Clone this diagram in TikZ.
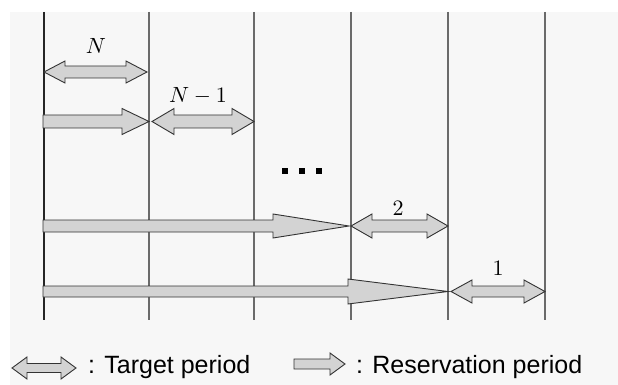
\documentclass[tikz,border=0pt]{standalone}
\usepackage{fontspec}
\newfontfamily\legendfont{Liberation Sans}
\definecolor{bgc}{HTML}{F7F7F7}
\definecolor{arrfill}{HTML}{D3D3D3}
\definecolor{arredge}{HTML}{333333}
\definecolor{linec}{HTML}{6A6A6A}
\tikzset{
  arrowfill/.style={fill=arrfill, draw=arredge, line width=0.9pt, line join=miter},
  gridline/.style={draw=linec, line width=1.2pt},
  mlabel/.style={inner sep=0pt},
  legtext/.style={inner sep=0pt, anchor=base west, font=\legendfont\fontsize{25}{30}\selectfont},
  dotsq/.style={fill=black, minimum size=5.5pt, inner sep=0pt, draw=none}
}
\newcommand{\lblmath}[1]{\scalebox{2.2}{$#1$}}
% double arrow: x1, x2, y, shaft half, head half, head length
\newcommand{\dbarr}[6]{%
  \filldraw[arrowfill] (#1,#3) -- (#1+#6,#3-#5) -- (#1+#6,#3-#4) -- (#2-#6,#3-#4) -- (#2-#6,#3-#5) -- (#2,#3) -- (#2-#6,#3+#5) -- (#2-#6,#3+#4) -- (#1+#6,#3+#4) -- (#1+#6,#3+#5) -- cycle;}
% reservation arrow: x1, tip x, y, shaft half, head half, head start x
\newcommand{\rsarr}[6]{%
  \filldraw[arrowfill] (#1,#3-#4) -- (#6,#3-#4) -- (#6,#3-#5) -- (#2,#3) -- (#6,#3+#5) -- (#6,#3+#4) -- (#1,#3+#4) -- cycle;}
\begin{document}
\begin{tikzpicture}[x=1pt,y=-1pt]
\useasboundingbox (0,0) rectangle (618,385);
\fill[white] (0,0) rectangle (618,385);
\fill[bgc] (10,12) rectangle (618,385);
% vertical time lines
\foreach \xx/\nm in {44/l0,149/l1,254/l2,351/l3,448/l4,545/l5}{
  \coordinate (\nm t) at (\xx,12);
  \coordinate (\nm b) at (\xx,320);
}
\draw[gridline, draw=black!85] (l0t) -- (l0b);
\foreach \nm in {l1,l2,l3,l4,l5}{\draw[gridline] (\nm t) -- (\nm b);}
% row 1
\dbarr{44}{147}{72}{6}{11}{21}
\node[mlabel] (labN) at (96,46) {\lblmath{N}};
% row 2
\rsarr{43}{149}{121.5}{6.5}{13}{122}
\dbarr{152}{254}{121.5}{6.5}{13}{22}
\node[mlabel] (labN1) at (198,96) {\lblmath{N-1}};
% dots
\node[dotsq] (d1) at (285,171) {};
\node[dotsq] (d2) at (302,171) {};
\node[dotsq] (d3) at (319,171) {};
% row 3
\rsarr{43}{349}{226}{6}{12}{273}
\dbarr{351}{448}{226}{6}{12}{21}
\node[mlabel] (lab2) at (398,208) {\lblmath{2}};
% row 4
\rsarr{43}{448}{291.5}{5.5}{12.5}{348}
\dbarr{451}{545}{291.5}{5.5}{11.5}{21}
\node[mlabel] (lab1) at (498,268) {\lblmath{1}};
% legend
\dbarr{12}{76}{368}{4.5}{11}{15}
\node[legtext] (legT) at (88,373) {: Target period};
\rsarr{294}{345}{364}{5}{11}{330}
\node[legtext] (legR) at (356,373) {: Reservation period};
\end{tikzpicture}
\end{document}
